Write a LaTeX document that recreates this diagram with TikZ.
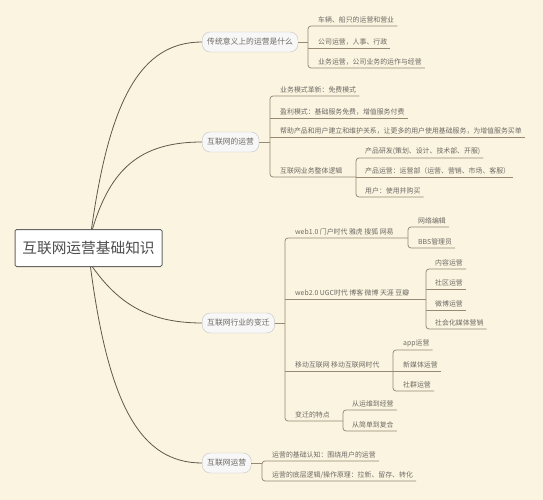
\documentclass[tikz,border=0pt]{standalone}
\usepackage{fontspec}
\setmainfont{Noto Sans CJK SC}
\usetikzlibrary{positioning,calc}
\definecolor{paper}{RGB}{250,244,224}
\definecolor{linkgray}{RGB}{150,138,115}
\definecolor{curvegray}{RGB}{95,89,77}
\definecolor{textgray}{RGB}{110,106,100}
\definecolor{topicline}{RGB}{195,195,195}

\begin{document}
\begin{tikzpicture}[x=1pt, y=-1pt,
    root/.style={draw=black!60, line width=1pt, fill=white, rounded corners=1.5pt, minimum width=147pt, minimum height=37pt, font=\fontsize{14.7}{16}\selectfont, text=black!70},
    topic/.style={draw=topicline, fill=white!97!black, rounded corners=8pt, minimum height=20pt, inner xsep=5pt, anchor=west, font=\fontsize{7.8}{9}\selectfont, text=textgray},
    item/.style={anchor=south west, inner xsep=3pt, inner ysep=2.5pt, font=\fontsize{6.9}{8}\selectfont, text=textgray},
    link/.style={draw=linkgray, line width=0.75pt},
    curve/.style={draw=curvegray, line width=0.8pt}]
  \fill[paper] (0,0) rectangle (543,500);
  \useasboundingbox (0,0) rectangle (543,500);

  % root and main topics
  \node[root] (root) at (88.5,248) {互联网运营基础知识};
  \node[topic] (b1) at (202,42) {传统意义上的运营是什么};
  \node[topic] (b2) at (202,142) {互联网的运营};
  \node[topic] (b3) at (202,323) {互联网行业的变迁};
  \node[topic] (b4) at (202,463) {互联网运营};

  \draw[curve] ([xshift=3pt]root.north) .. controls +(18,-128) and +(-62,0) .. (b1.west);
  \draw[curve] ([xshift=4pt]root.north) .. controls +(18,-60) and +(-62,0) .. (b2.west);
  \draw[curve] ([xshift=4pt]root.south) .. controls +(25,35) and +(-55,0) .. (b3.west);
  \draw[curve] ([xshift=2pt]root.south) .. controls +(18,137) and +(-62,0) .. (b4.west);

  % traditional operation
  \coordinate (t1) at (308,42);
  \node[item] (c11) at (315,26) {车辆、船只的运营和营业};
  \node[item] (c12) at (315,48) {公司运营，人事、行政};
  \node[item] (c13) at (315,68) {业务运营，公司业务的运作与经营};
  \draw[link] (b1.east) -- (t1);
  \draw[link, rounded corners=3pt] (c11.south east) -- (c11.south west -| t1) -- (c13.south west -| t1) -- (c13.south east);
  \draw[link] (c12.south west -| t1) -- (c12.south east);

  % internet operation
  \coordinate (t2) at (270,142);
  \coordinate (t24) at (356,177);
  \node[item] (c21) at (277,96) {业务模式革新：免费模式};
  \node[item] (c22) at (277,118) {盈利模式：基础服务免费，增值服务付费};
  \node[item] (c23) at (277,137) {帮助产品和用户建立和维护关系，让更多的用户使用基础服务，为增值服务买单};
  \node[item] (c24) at (277,177) {互联网业务整体逻辑};
  \node[item] (c241) at (362,158) {产品研发(策划、设计、技术部、开服)};
  \node[item] (c242) at (362,177) {产品运营：运营部（运营、营销、市场、客服）};
  \node[item] (c243) at (362,197) {用户：使用并购买};
  \draw[link] (b2.east) -- (t2);
  \draw[link, rounded corners=3pt] (c21.south east) -- (c21.south west -| t2) -- (c24.south west -| t2) -- (t24);
  \draw[link] (c22.south west -| t2) -- (c22.south east);
  \draw[link] (c23.south west -| t2) -- (c23.south east);
  \draw[link, rounded corners=3pt] (c241.south east) -- (c241.south west -| t24) -- (c243.south west -| t24) -- (c243.south east);
  \draw[link] (t24) -- (c242.south east);

  % changes of the industry
  \coordinate (t3) at (285,323);
  \coordinate (t31) at (408,238);
  \coordinate (t32) at (426,299);
  \coordinate (t33) at (393,371);
  \coordinate (t34) at (343,421);
  \node[item] (c31) at (292,238) {web1.0 门户时代 雅虎 搜狐 网易};
  \node[item] (c32) at (292,299) {web2.0 UGC时代 博客 微博 天涯 豆瓣};
  \node[item] (c33) at (292,371) {移动互联网 移动互联网时代};
  \node[item] (c34) at (292,421) {变迁的特点};
  \draw[link] (b3.east) -- (t3);
  \draw[link, rounded corners=3pt] (t31) -- (c31.south west -| t3) -- (c34.south west -| t3) -- (t34);
  \draw[link] (c32.south west -| t3) -- (t32);
  \draw[link] (c33.south west -| t3) -- (t33);

  \node[item] (c311) at (415,227) {网络编辑};
  \node[item] (c312) at (415,248) {BBS管理员};
  \draw[link, rounded corners=3pt] (c311.south east) -- (c311.south west -| t31) -- (c312.south west -| t31) -- (c312.south east);

  \node[item] (c321) at (432,269) {内容运营};
  \node[item] (c322) at (432,289) {社区运营};
  \node[item] (c323) at (432,310) {微博运营};
  \node[item] (c324) at (432,329) {社会化媒体营销};
  \draw[link, rounded corners=3pt] (c321.south east) -- (c321.south west -| t32) -- (c324.south west -| t32) -- (c324.south east);
  \draw[link] (c322.south west -| t32) -- (c322.south east);
  \draw[link] (c323.south west -| t32) -- (c323.south east);

  \node[item] (c331) at (400,350) {app运营};
  \node[item] (c332) at (400,371) {新媒体运营};
  \node[item] (c333) at (400,391) {社群运营};
  \draw[link, rounded corners=3pt] (c331.south east) -- (c331.south west -| t33) -- (c333.south west -| t33) -- (c333.south east);
  \draw[link] (t33) -- (c332.south east);

  \node[item] (c341) at (349,410) {从运维到经营};
  \node[item] (c342) at (349,431) {从简单到复合};
  \draw[link, rounded corners=3pt] (c341.south east) -- (c341.south west -| t34) -- (c342.south west -| t34) -- (c342.south east);

  % internet operation basics
  \coordinate (t4) at (262,463);
  \node[item] (c41) at (269,461) {运营的基础认知：围绕用户的运营};
  \node[item] (c42) at (269,481) {运营的底层逻辑/操作原理：拉新、留存、转化};
  \draw[link] (b4.east) -- (t4);
  \draw[link, rounded corners=3pt] (c41.south east) -- (c41.south west -| t4) -- (c42.south west -| t4) -- (c42.south east);
\end{tikzpicture}
\end{document}
